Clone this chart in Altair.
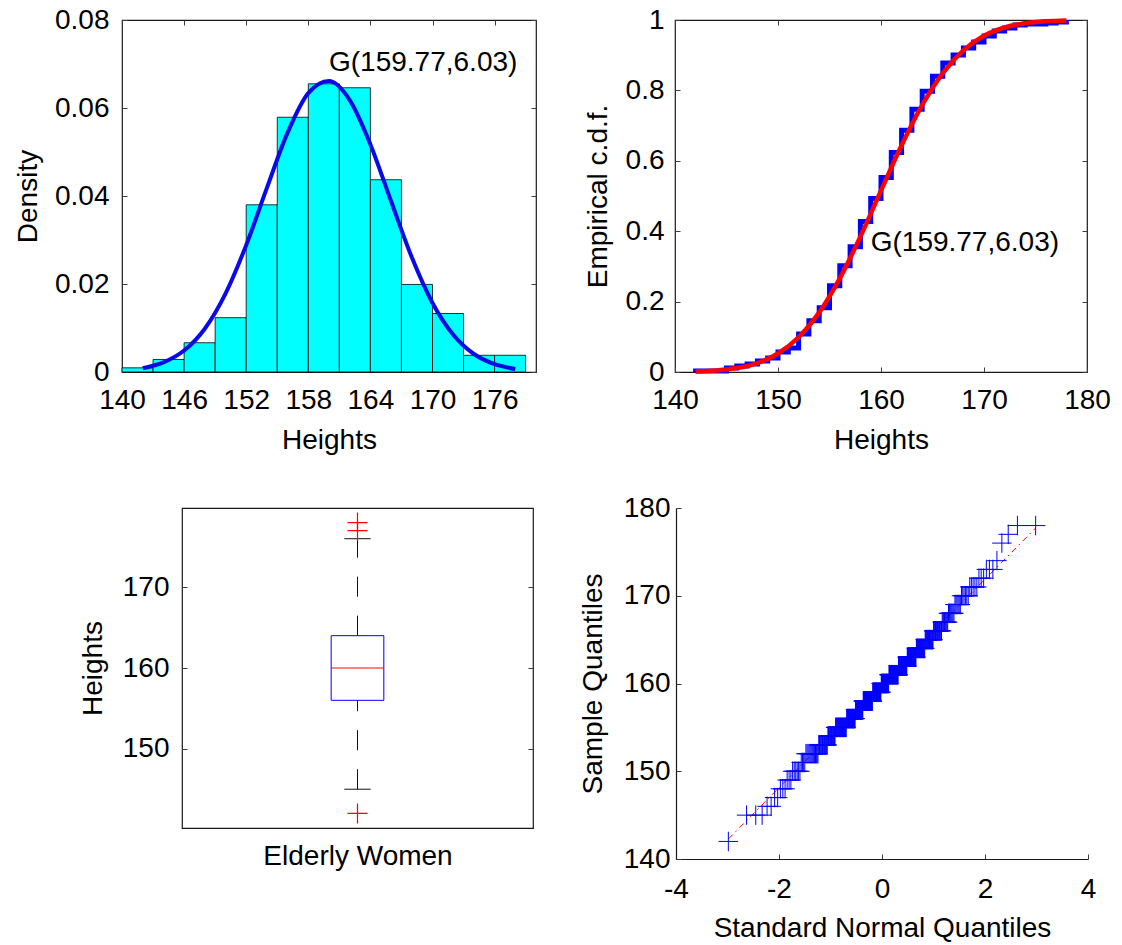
import altair as alt
import pandas as pd

FONT = "Liberation Sans"
FS = 28
BLUE = "#0000ff"
RED = "#ff0000"
CYAN = "#00ffff"
FRAME = "#1a1a1a"
TICK = "#3c3c3c"
PLUS = "M-1,0L1,0M0,-1L0,1"

# ---------------- values ----------------
bin_left = [140, 143, 146, 149, 152, 155, 158, 161, 164, 167, 170, 173, 176]
bin_right = [143, 146, 149, 152, 155, 158, 161, 164, 167, 170, 173, 176, 179]
bin_density = [0.00095, 0.00285, 0.00665, 0.01235, 0.0380, 0.0579, 0.0655,
               0.0646, 0.0437, 0.0199, 0.0133, 0.0038, 0.0038]

fit_x = [142, 144, 146, 148, 150, 152, 154, 156, 158, 160, 162, 164, 166, 168,
         170, 172, 174, 176, 178]
fit_pdf = [0.00086, 0.00217, 0.00487, 0.00984, 0.01781, 0.02884, 0.04185,
           0.05441, 0.06337, 0.06611, 0.06179, 0.05173, 0.03880, 0.02607,
           0.01569, 0.00846, 0.00409, 0.00177, 0.00069]
fit_cdf = [0.0016, 0.0045, 0.0112, 0.0255, 0.0526, 0.0987, 0.1693, 0.2660,
           0.3846, 0.5152, 0.6442, 0.7585, 0.8492, 0.9138, 0.9551, 0.9787,
           0.9909, 0.9964, 0.9988]

height_values = list(range(142, 179))
height_counts = [1, 0, 0, 3, 2, 2, 3, 3, 6, 4, 14, 13, 13, 22, 20, 19, 25, 23,
                 21, 25, 22, 21, 18, 15, 13, 8, 7, 6, 6, 5, 3, 3, 1, 0, 1, 1, 2]

box_q1, box_median, box_q3 = 156, 160, 164
whisker_low, whisker_high = 145, 176
outlier_values = [142, 177, 178]

qq_line_x = [-2.98, 2.98]
qq_line_y = [142.3, 177.7]

fit_label = "G(159.77,6.03)"
label1_pos = (160.0, 0.0703)
label2_pos = (159.0, 0.366)

# ---------------- tables built from the arrays ----------------
hist_df = pd.DataFrame({"left": bin_left, "right": bin_right,
                        "density": bin_density, "zero": [0] * len(bin_left)})
fit_df = pd.DataFrame({"x": fit_x, "pdf": fit_pdf, "cdf": fit_cdf})

n_total = sum(height_counts)
ecdf_x, ecdf_y, cum = [height_values[0]], [0.0], 0
for h, c in zip(height_values, height_counts):
    if c > 0:
        cum += c
        ecdf_x.append(h)
        ecdf_y.append(cum / n_total)
ecdf_df = pd.DataFrame({"x": ecdf_x, "y": ecdf_y, "i": range(len(ecdf_x))})

sample = []
for h, c in zip(height_values, height_counts):
    sample += [h] * c
sample_df = pd.DataFrame({"h": sample})

W1, H1 = 414, 352
W2, H2 = 412, 352
W3, H3 = 351, 320
W4, H4 = 412, 351


def tick_axis(orient, values):
    return alt.Axis(orient=orient, values=values, offset=-5, tickSize=5,
                    ticks=True, tickColor=TICK, tickWidth=1, domain=False,
                    labels=False, grid=False, title=None)


def label_axis(orient, values, pad, title, title_x, title_y,
               expr="'' + datum.value", labels=True, domain=False):
    horiz = orient in ("bottom", "top")
    kw = dict(orient=orient, ticks=False, tickSize=0, domain=domain,
              domainColor=FRAME, domainWidth=1.2, labels=labels,
              labelPadding=pad, labelAlign="center" if horiz else "right",
              labelBaseline="middle", labelFont=FONT, labelFontSize=FS,
              labelColor="black", grid=False, title=title, titleFont=FONT,
              titleFontSize=FS, titleFontWeight="normal", titleColor="black",
              titleX=title_x, titleY=title_y, titleAlign="center",
              titleBaseline="middle", titleAngle=0 if horiz else 270)
    if values is not None:
        kw["values"] = values
        kw["labelExpr"] = expr
    return alt.Axis(**kw)


ZERO_FMT = "datum.value == 0 ? '0' : format(datum.value, '~g')"

# ---------------- panel 1: histogram + normal fit ----------------
x1 = alt.Scale(domain=[140, 180], nice=False, zero=False)
y1 = alt.Scale(domain=[0, 0.08], nice=False, zero=False)
xt1 = [140, 146, 152, 158, 164, 170, 176]
yt1 = [0, 0.02, 0.04, 0.06, 0.08]

bars = alt.Chart(hist_df).mark_rect(fill=CYAN, stroke="black", strokeWidth=0.8).encode(
    x=alt.X("left:Q", scale=x1, axis=label_axis("bottom", xt1, 28, "Heights", W1 / 2, 68)),
    x2="right:Q",
    y=alt.Y("density:Q", scale=y1,
            axis=label_axis("left", yt1, 13, "Density", -94, H1 / 2, expr=ZERO_FMT)),
    y2="zero:Q",
)
curve = alt.Chart(fit_df).mark_line(color="#0a0ae6", strokeWidth=4, interpolate="monotone").encode(
    x=alt.X("x:Q", scale=x1, axis=tick_axis("bottom", xt1)),
    y=alt.Y("pdf:Q", scale=y1, axis=tick_axis("left", yt1)),
)
txt1 = alt.Chart(pd.DataFrame({"x": [label1_pos[0]], "y": [label1_pos[1]], "t": [fit_label]})).mark_text(
    align="left", baseline="middle", font=FONT, fontSize=FS, color="black").encode(
    x=alt.X("x:Q", scale=x1, axis=tick_axis("top", xt1)),
    y=alt.Y("y:Q", scale=y1, axis=tick_axis("right", yt1)),
    text="t:N",
)
p1 = alt.layer(bars, curve, txt1).resolve_axis(x="independent", y="independent").properties(
    width=W1, height=H1)

# ---------------- panel 2: empirical cdf ----------------
x2 = alt.Scale(domain=[140, 180], nice=False, zero=False)
y2 = alt.Scale(domain=[0, 1], nice=False, zero=False)
xt2 = [140, 150, 160, 170, 180]
yt2 = [0, 0.2, 0.4, 0.6, 0.8, 1]

stairs = alt.Chart(ecdf_df).mark_line(color=BLUE, strokeWidth=5, interpolate="step-after").encode(
    x=alt.X("x:Q", scale=x2, axis=label_axis("bottom", xt2, 28, "Heights", W2 / 2, 68)),
    y=alt.Y("y:Q", scale=y2,
            axis=label_axis("left", yt2, 11, "Empirical c.d.f.", -77, H2 / 2, expr=ZERO_FMT)),
    order="i:Q",
)
cdf_line = alt.Chart(fit_df).mark_line(color=RED, strokeWidth=4.5, interpolate="monotone").encode(
    x=alt.X("x:Q", scale=x2, axis=tick_axis("bottom", xt2)),
    y=alt.Y("cdf:Q", scale=y2, axis=tick_axis("left", yt2)),
)
txt2 = alt.Chart(pd.DataFrame({"x": [label2_pos[0]], "y": [label2_pos[1]], "t": [fit_label]})).mark_text(
    align="left", baseline="middle", font=FONT, fontSize=FS, color="black").encode(
    x=alt.X("x:Q", scale=x2, axis=tick_axis("top", xt2)),
    y=alt.Y("y:Q", scale=y2, axis=tick_axis("right", yt2)),
    text="t:N",
)
p2 = alt.layer(stairs, cdf_line, txt2).resolve_axis(x="independent", y="independent").properties(
    width=W2, height=H2)

# ---------------- panel 3: box plot ----------------
x3 = alt.Scale(domain=[0.5, 1.5], nice=False, zero=False)
y3 = alt.Scale(domain=[140.2, 179.8], nice=False, zero=False)
yt3 = [150, 160, 170]
BOX_HALF, CAP_HALF = 0.075, 0.0375

box = alt.Chart(pd.DataFrame({"x": [1 - BOX_HALF], "x2": [1 + BOX_HALF],
                              "y": [box_q1], "y2": [box_q3]})).mark_rect(
    fill="transparent", stroke=BLUE, strokeWidth=1).encode(
    x=alt.X("x:Q", scale=x3, axis=label_axis("bottom", None, 0, "Elderly Women", W3 / 2, 28, labels=False)),
    x2="x2:Q",
    y=alt.Y("y:Q", scale=y3, axis=label_axis("left", yt3, 13, "Heights", -89, H3 / 2)),
    y2="y2:Q",
)
median = alt.Chart(pd.DataFrame({"x": [1 - BOX_HALF], "x2": [1 + BOX_HALF], "y": [box_median]})).mark_rule(
    color=RED, strokeWidth=1).encode(
    x=alt.X("x:Q", scale=x3, axis=None), x2="x2:Q",
    y=alt.Y("y:Q", scale=y3, axis=tick_axis("left", yt3)),
)
whiskers = alt.Chart(pd.DataFrame({"x": [1, 1], "y": [whisker_low, box_q3],
                                   "y2": [box_q1, whisker_high]})).mark_rule(
    color="#111111", strokeWidth=1, strokeDash=[20, 19]).encode(
    x=alt.X("x:Q", scale=x3, axis=None),
    y=alt.Y("y:Q", scale=y3, axis=tick_axis("right", yt3)),
    y2="y2:Q",
)
caps = alt.Chart(pd.DataFrame({"x": [1 - CAP_HALF] * 2, "x2": [1 + CAP_HALF] * 2,
                               "y": [whisker_low, whisker_high]})).mark_rule(
    color="#111111", strokeWidth=1).encode(
    x=alt.X("x:Q", scale=x3, axis=None), x2="x2:Q",
    y=alt.Y("y:Q", scale=y3, axis=None),
)
outs = alt.Chart(pd.DataFrame({"x": [1] * len(outlier_values), "y": outlier_values})).mark_point(
    shape=PLUS, size=400, filled=False, color=RED, stroke=RED, strokeWidth=1.2, opacity=1).encode(
    x=alt.X("x:Q", scale=x3, axis=None),
    y=alt.Y("y:Q", scale=y3, axis=None),
)
p3 = alt.layer(box, median, whiskers, caps, outs).resolve_axis(
    x="independent", y="independent").properties(width=W3, height=H3)

# ---------------- panel 4: normal QQ plot ----------------
x4 = alt.Scale(domain=[-4, 4], nice=False, zero=False)
y4 = alt.Scale(domain=[140, 180], nice=False, zero=False)
xt4 = [-4, -2, 0, 2, 4]
yt4 = [140, 150, 160, 170, 180]

ref = alt.Chart(pd.DataFrame({"x": qq_line_x, "y": qq_line_y})).mark_line(
    color=RED, strokeWidth=1, strokeDash=[6, 4, 1.5, 4]).encode(
    x=alt.X("x:Q", scale=x4, axis=tick_axis("bottom", xt4)),
    y=alt.Y("y:Q", scale=y4, axis=tick_axis("left", yt4)),
)
pts = alt.Chart(sample_df).transform_window(
    rank="row_number()", sort=[alt.SortField("h", order="ascending")]
).transform_joinaggregate(n="count()").transform_calculate(
    q="quantileNormal((datum.rank - 0.5) / datum.n)"
).mark_point(shape=PLUS, size=380, filled=False, color=BLUE, strokeWidth=1, opacity=1).encode(
    x=alt.X("q:Q", scale=x4,
            axis=label_axis("bottom", xt4, 30, "Standard Normal Quantiles", W4 / 2, 69, domain=True)),
    y=alt.Y("h:Q", scale=y4,
            axis=label_axis("left", yt4, 6, "Sample Quantiles", -83, H4 / 2, domain=True)),
)
p4 = alt.layer(ref, pts).resolve_axis(x="independent", y="independent").properties(
    width=W4, height=H4, view=alt.ViewBackground(stroke="transparent"))


def spacer(w):
    return alt.Chart(pd.DataFrame({"v": [0]})).mark_point(opacity=0).properties(
        width=w, height=1, view=alt.ViewBackground(stroke="transparent"))


row1 = alt.hconcat(p1, p2, spacing=139, bounds="flush")
row2 = alt.hconcat(spacer(60), p3, spacer(143), p4, spacing=0, bounds="flush")

chart = alt.vconcat(row1, row2, spacing=488, bounds="flush").properties(
    padding={"left": 13, "top": 5, "right": 5, "bottom": 5}
).configure(background="white", font=FONT).configure_view(
    stroke=FRAME, strokeWidth=1.2
)

chart.save("out.html", embed_options={"renderer": "svg", "actions": False})
